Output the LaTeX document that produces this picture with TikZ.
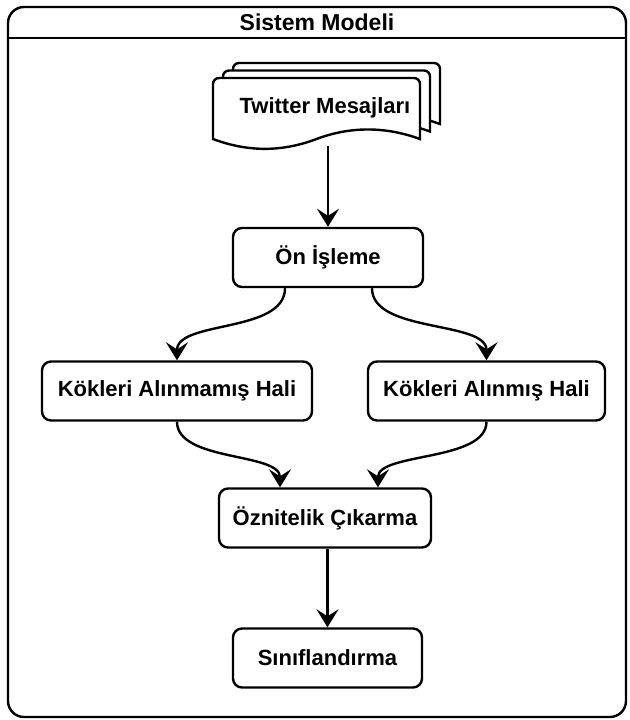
\documentclass[tikz,border=0pt]{standalone}
\usepackage{fontspec}
\setmainfont{Liberation Sans}
\usepackage{tikz}
\usetikzlibrary{arrows.meta, positioning}

% one page of the tweet stack, shifted by (#1,#2)
\newcommand{\tweetpage}[2]{%
  \draw[page, shift={(#1,#2)}] (213,139) [rounded corners=3pt]-- (213,78) -- (420,78) [sharp corners]-- (420,139)
    .. controls (385.3,126.3) and (350.2,126.3) .. (316.5,139)
    .. controls (282.2,152.1) and (247.7,152.1) .. (213,139) -- cycle;}

\begin{document}
\begin{tikzpicture}[
    x=0.5pt, y=-0.5pt,
    box/.style={draw, line width=1.2pt, rounded corners=4.5pt, fill=white,
                minimum height=29.5pt, align=center,
                font=\fontsize{11}{13}\selectfont\bfseries},
    page/.style={draw, line width=1.2pt, fill=white},
    arrow/.style={-{Stealth[length=9pt, width=11pt, inset=3.5pt]}, line width=1.2pt},
    label/.style={font=\fontsize{11}{13}\selectfont\bfseries}
]
\useasboundingbox (0,0) rectangle (629,720);

% container
\draw[line width=1.2pt, rounded corners=8pt] (8,7) rectangle (626,717);
\draw[line width=1.2pt] (8,38) -- (626,38);
\node[label, font=\fontsize{11.5}{13}\selectfont\bfseries] (title) at (317,22) {Sistem Modeli};

% tweet stack
\tweetpage{20}{-15}
\tweetpage{10}{-7.5}
\tweetpage{0}{0}
\node[label] (tweets) at (325,108) {Twitter Mesajları};
\coordinate (tweetsout) at (328,146);

\node[box, minimum width=95pt] (pre) at (328,257.5) {Ön İşleme};
\node[box, minimum width=135pt] (kok0) at (177,391) {Kökleri Alınmamış Hali};
\node[box, minimum width=118.5pt] (kok1) at (486.5,391) {Kökleri Alınmış Hali};
\node[box, minimum width=106pt] (feat) at (325,518) {Öznitelik Çıkarma};
\node[box, minimum width=94.5pt] (cls) at (327.5,658) {Sınıflandırma};

\draw[arrow] (tweetsout) -- (pre);
\draw[arrow] ([xshift=-21.5pt]pre.south) .. controls +(0,45) and +(0,-40) .. (kok0.north);
\draw[arrow] ([xshift=22pt]pre.south) .. controls +(0,45) and +(0,-40) .. (kok1.north);
\draw[arrow] (kok0.south) .. controls +(0,40) and +(0,-35) .. ([xshift=-22.5pt]feat.north);
\draw[arrow] (kok1.south) .. controls +(0,40) and +(0,-35) .. ([xshift=26.5pt]feat.north);
\draw[arrow] (feat.south -| cls.north) -- (cls.north);
\end{tikzpicture}
\end{document}
